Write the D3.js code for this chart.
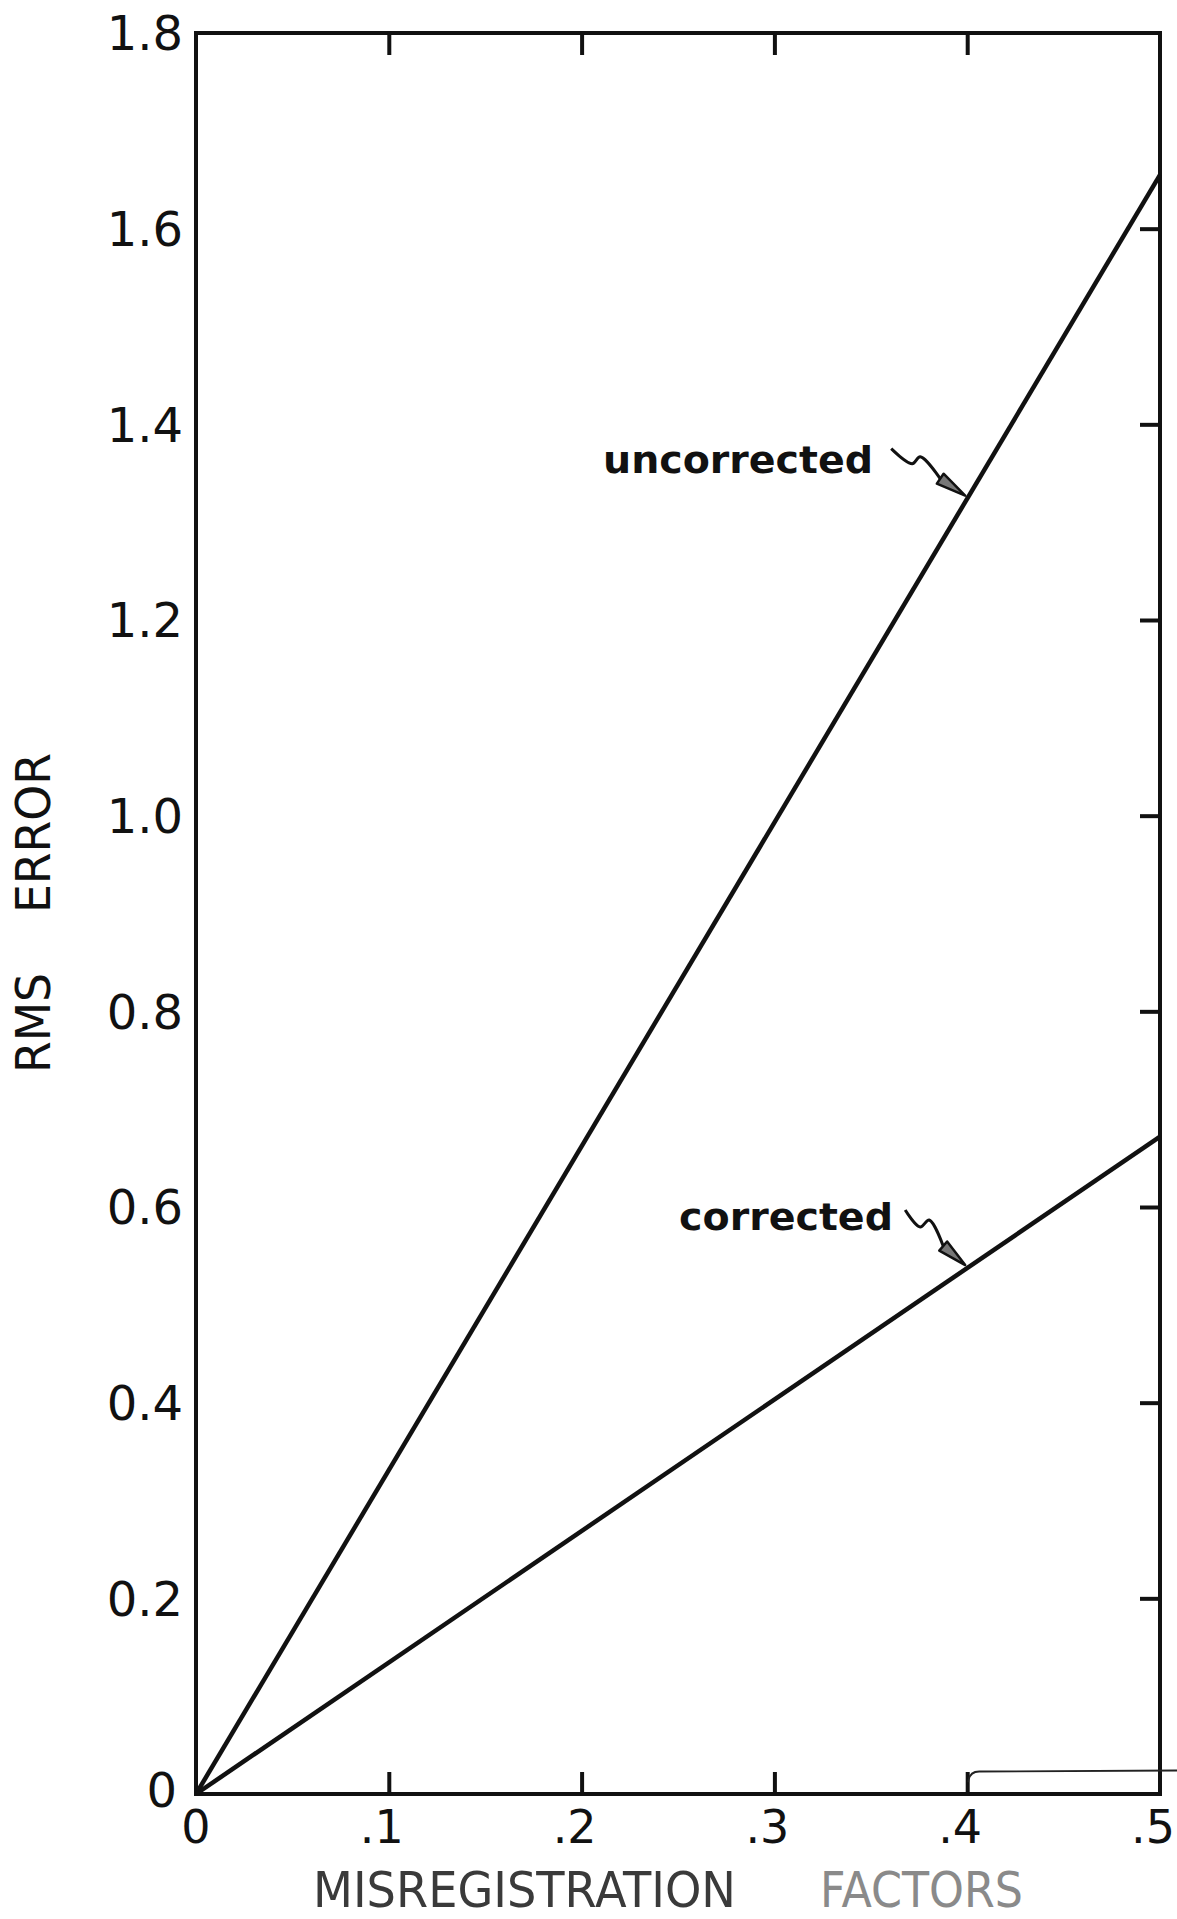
<!DOCTYPE html>
<html>
<head>
<meta charset="utf-8">
<script src="https://cdn.jsdelivr.net/npm/d3@7"></script>
<style>
  body { margin: 0; background: #fff; }
  text { font-family: "DejaVu Sans", sans-serif; fill: #111; }
</style>
</head>
<body>
<div id="chart"></div>
<script>
// data
let factors = [0, 0.5];
let uncorrected = [0, 1.655];
let corrected = [0, 0.672];
let xTicks = [0, 0.1, 0.2, 0.3, 0.4, 0.5];
let xTickLabels = ["0", ".1", ".2", ".3", ".4", ".5"];
let yTicks = [0, 0.2, 0.4, 0.6, 0.8, 1.0, 1.2, 1.4, 1.6, 1.8];
let yTickLabels = ["0", "0.2", "0.4", "0.6", "0.8", "1.0", "1.2", "1.4", "1.6", "1.8"];

let width = 1177;
let height = 1919;
let plotLeft = 196, plotRight = 1160, plotTop = 33, plotBottom = 1794;

let x = d3.scaleLinear().domain([0, 0.5]).range([plotLeft, plotRight]);
let y = d3.scaleLinear().domain([0, 1.8]).range([plotBottom, plotTop]);

let svg = d3.select("#chart")
    .append("svg")
    .attr("width", width)
    .attr("height", height);

// frame
svg.append("rect")
    .attr("x", plotLeft)
    .attr("y", plotTop)
    .attr("width", plotRight - plotLeft)
    .attr("height", plotBottom - plotTop)
    .attr("fill", "none")
    .attr("stroke", "#111")
    .attr("stroke-width", 4);

// inward ticks: bottom, top, right
let innerX = xTicks.filter(function(d) { return d > 0 && d < 0.5; });
let innerY = yTicks.filter(function(d) { return d > 0 && d < 1.8; });

svg.append("g")
    .attr("transform", "translate(0," + plotBottom + ")")
    .call(d3.axisBottom(x).tickValues(innerX).tickSizeInner(-22).tickSizeOuter(0).tickFormat(""))
    .call(function(g) { g.select(".domain").remove(); })
    .selectAll("line").attr("stroke", "#111").attr("stroke-width", 4);

svg.append("g")
    .attr("transform", "translate(0," + plotTop + ")")
    .call(d3.axisTop(x).tickValues(innerX).tickSizeInner(-22).tickSizeOuter(0).tickFormat(""))
    .call(function(g) { g.select(".domain").remove(); })
    .selectAll("line").attr("stroke", "#111").attr("stroke-width", 4);

svg.append("g")
    .attr("transform", "translate(" + plotRight + ",0)")
    .call(d3.axisRight(y).tickValues(innerY).tickSizeInner(-20).tickSizeOuter(0).tickFormat(""))
    .call(function(g) { g.select(".domain").remove(); })
    .selectAll("line").attr("stroke", "#111").attr("stroke-width", 4);

// tick labels
svg.append("g").selectAll("text")
    .data(yTicks)
    .enter().append("text")
    .attr("x", function(d) { return d === 0 ? 177 : 183; })
    .attr("y", function(d) { return y(d) + (d === 0 ? -4 : 0); })
    .attr("dy", "0.36em")
    .attr("text-anchor", "end")
    .style("font-size", "48px")
    .text(function(d, i) { return yTickLabels[i]; });

svg.append("g").selectAll("text")
    .data(xTicks)
    .enter().append("text")
    .attr("x", function(d) { return x(d) + (d === 0 ? 0 : -7); })
    .attr("y", 1843)
    .attr("text-anchor", "middle")
    .style("font-size", "46px")
    .text(function(d, i) { return xTickLabels[i]; });

// axis titles
svg.append("text")
    .attr("x", 313).attr("y", 1907)
    .attr("textLength", 423).attr("lengthAdjust", "spacingAndGlyphs")
    .style("font-size", "50px").style("fill", "#3a3a3a")
    .text("MISREGISTRATION");
svg.append("text")
    .attr("x", 820).attr("y", 1907)
    .attr("textLength", 203).attr("lengthAdjust", "spacingAndGlyphs")
    .style("font-size", "50px").style("fill", "#8a8a8a")
    .text("FACTORS");

svg.append("text")
    .attr("transform", "translate(50,1073) rotate(-90)")
    .attr("textLength", 100).attr("lengthAdjust", "spacingAndGlyphs")
    .style("font-size", "48px")
    .text("RMS");
svg.append("text")
    .attr("transform", "translate(50,913) rotate(-90)")
    .attr("textLength", 160).attr("lengthAdjust", "spacingAndGlyphs")
    .style("font-size", "48px")
    .text("ERROR");

// series lines
let line = d3.line()
    .x(function(d) { return x(d[0]); })
    .y(function(d) { return y(d[1]); });

[uncorrected, corrected].forEach(function(series) {
    svg.append("path")
        .datum(factors.map(function(f, i) { return [f, series[i]]; }))
        .attr("d", line)
        .attr("fill", "none")
        .attr("stroke", "#111")
        .attr("stroke-width", 4.5);
});

// annotations with squiggly arrows
let annotations = [
    { label: "uncorrected", series: uncorrected, at: 0.4, tx: 603, ty: 473, tl: 270,
      squiggle: [[-74, -47], [-53, -32], [-45, -39], [-25, -17]] },
    { label: "corrected", series: corrected, at: 0.4, tx: 679, ty: 1230, tl: 214,
      squiggle: [[-60, -55], [-45, -38], [-36, -45], [-22, -19]] }
];

let squiggleLine = d3.line().curve(d3.curveCatmullRom);

annotations.forEach(function(a) {
    let vy = d3.scaleLinear().domain(factors).range(a.series)(a.at);
    let tipX = x(a.at) - 2, tipY = y(vy) - 3;

    svg.append("text")
        .attr("x", a.tx).attr("y", a.ty)
        .attr("textLength", a.tl).attr("lengthAdjust", "spacingAndGlyphs")
        .style("font-size", "38px").style("font-weight", "bold")
        .text(a.label);

    let pts = a.squiggle.map(function(p) { return [tipX + p[0], tipY + p[1]]; });
    svg.append("path")
        .attr("d", squiggleLine(pts))
        .attr("fill", "none")
        .attr("stroke", "#111")
        .attr("stroke-width", 3);

    let base = pts[pts.length - 1];
    let dx = tipX - base[0], dy = tipY - base[1];
    let len = Math.sqrt(dx * dx + dy * dy);
    let nx = -dy / len * 6, ny = dx / len * 6;
    svg.append("path")
        .attr("d", "M" + tipX + "," + tipY +
            "L" + (base[0] + nx) + "," + (base[1] + ny) +
            "L" + (base[0] - nx) + "," + (base[1] - ny) + "Z")
        .attr("fill", "#777")
        .attr("stroke", "#111")
        .attr("stroke-width", 2.5)
        .attr("stroke-linejoin", "round");
});

// paste-up edge at lower right
svg.append("path")
    .attr("d", "M" + (x(0.4) + 1) + "," + y(0.012) + "Q" + (x(0.4) + 2) + "," + y(0.023) + " " + (x(0.4) + 12) + "," + y(0.023) + "L" + width + "," + y(0.024))
    .attr("fill", "none")
    .attr("stroke", "#222")
    .attr("stroke-width", 1.8);
</script>
</body>
</html>
